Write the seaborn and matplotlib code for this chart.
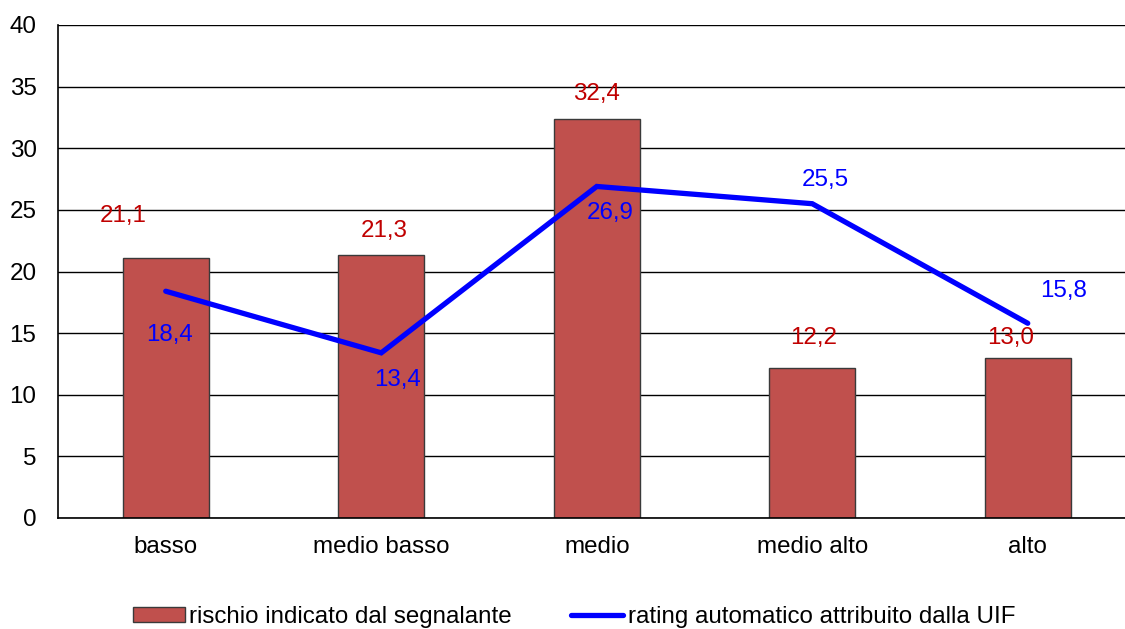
import numpy as np
import pandas as pd
import matplotlib
matplotlib.use("Agg")
import matplotlib.pyplot as plt
from matplotlib.patches import Patch
from matplotlib.lines import Line2D
import seaborn as sns

categories = ["basso", "medio basso", "medio", "medio alto", "alto"]
rischio_segnalante = [21.1, 21.3, 32.4, 12.2, 13.0]
rating_uif = [18.4, 13.4, 26.9, 25.5, 15.8]
y_ticks = [0, 5, 10, 15, 20, 25, 30, 35, 40]
series_names = ["rischio indicato dal segnalante", "rating automatico attribuito dalla UIF"]

# label offsets in pixels (dx, dy) relative to bar top / line point
bar_label_offsets = [(-43, 42), (3, 24), (0, 25), (1, 30), (-17, 20)]
line_label_offsets = [(4, -44), (16, -27), (13, -27), (13, 24), (36, 32)]

sns.set_theme(style="white")
plt.rcParams["font.family"] = ["Liberation Sans", "DejaVu Sans"]
plt.rcParams["text.color"] = "black"

FS = 17.4
W, H = 1125, 629
fig = plt.figure(figsize=(W / 100, H / 100), dpi=100)
left_px, top_px, bottom_px = 58, 25, 518
spacing = 215.5
ax = fig.add_axes([left_px / W, 1 - bottom_px / H, 5 * spacing / W, (bottom_px - top_px) / H])

df = pd.DataFrame({"cat": categories, "val": rischio_segnalante})
sns.barplot(data=df, x="cat", y="val", order=categories, color="#C0504D", saturation=1,
            width=0.4, edgecolor="#3a3a3a", linewidth=1.0, ax=ax, zorder=3)
x_pos = np.arange(len(categories))
sns.lineplot(x=x_pos, y=rating_uif, color="#0000FF", linewidth=3.8, ax=ax, zorder=4,
             sort=False, solid_capstyle="round", solid_joinstyle="miter")

ax.set_xlim(-0.5, len(categories) - 0.5)
ax.set_ylim(0, 40)
ax.set_yticks(y_ticks)
ax.set_yticklabels([str(t) for t in y_ticks])
ax.set_xlabel("")
ax.set_ylabel("")
ax.grid(axis="y", color="black", linewidth=1.0, zorder=0)
ax.set_axisbelow(True)
ax.tick_params(axis="both", length=0, labelsize=FS, colors="black")
ax.tick_params(axis="y", pad=15.5)
ax.tick_params(axis="x", pad=13)
for s in ["top", "right"]:
    ax.spines[s].set_visible(False)
for s in ["left", "bottom"]:
    ax.spines[s].set_color("black")
    ax.spines[s].set_linewidth(1.2)
    ax.spines[s].set_zorder(5)

for i, v in enumerate(rischio_segnalante):
    dx, dy = bar_label_offsets[i]
    ax.annotate(f"{v:.1f}".replace(".", ","), (x_pos[i], v), xytext=(dx, dy),
                textcoords="offset pixels", ha="center", va="center",
                fontsize=FS, color="#C00000", zorder=6)
for i, v in enumerate(rating_uif):
    dx, dy = line_label_offsets[i]
    ax.annotate(f"{v:.1f}".replace(".", ","), (x_pos[i], v), xytext=(dx, dy),
                textcoords="offset pixels", ha="center", va="center",
                fontsize=FS, color="#0000FF", zorder=6)

handles = [Patch(facecolor="#C0504D", edgecolor="#3a3a3a", linewidth=1.0),
           Line2D([0], [0], color="#0000FF", linewidth=3.8)]
leg = fig.legend(handles, series_names, loc="center", bbox_to_anchor=(574 / W, 1 - 617 / H),
                 ncol=2, frameon=False, fontsize=FS, handlelength=2.15, handleheight=0.6,
                 handletextpad=0.2, columnspacing=2.45, borderpad=0, borderaxespad=0)
for t in leg.get_texts():
    t.set_color("black")

fig.savefig("out.png", dpi=100)
